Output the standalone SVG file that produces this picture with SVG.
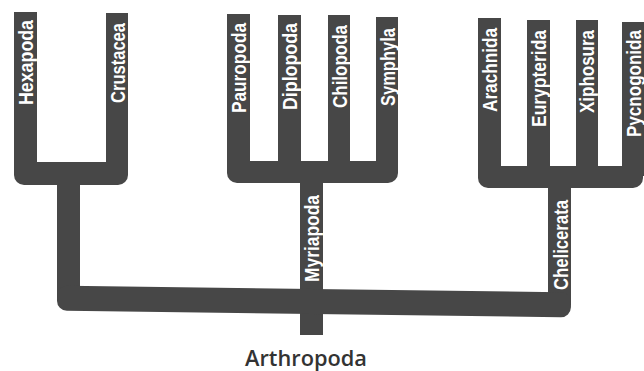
<svg xmlns="http://www.w3.org/2000/svg" width="644" height="371" viewBox="0 0 644 371">
<style>
.b{fill:#474747;stroke:none}
.l{fill:#ffffff;font-family:"Liberation Sans",Arial,sans-serif;font-weight:700;font-size:21px}
.t{fill:#333333;font-family:"Open Sans","Liberation Sans",sans-serif;font-weight:600;font-size:22px}
</style>
<rect width="644" height="371" fill="#ffffff"/>
<g id="connectors">
<rect class="b" x="57" y="175" width="23" height="125"/>
<rect class="b" x="300" y="175" width="23" height="160"/>
<rect class="b" x="548" y="180" width="23" height="125"/>
<rect class="b" x="57" y="289" width="514" height="25" rx="10" transform="rotate(0.75 314 301)"/>
</g>
<g id="hexapoda-crustacea">
<rect class="b" x="14" y="162" width="114" height="23" rx="10"/>
<rect class="b" x="14" y="12" width="23" height="160"/>
<rect class="b" x="106" y="13" width="22" height="159"/>
</g>
<g id="myriapoda-clade">
<rect class="b" x="227" y="161" width="171" height="22" rx="10"/>
<rect class="b" x="227" y="14" width="23" height="157"/>
<rect class="b" x="278" y="15" width="23" height="156"/>
<rect class="b" x="328" y="15" width="22" height="156"/>
<rect class="b" x="376" y="17" width="22" height="154"/>
</g>
<g id="chelicerata-clade">
<rect class="b" x="478" y="166" width="165" height="22" rx="10"/>
<rect class="b" x="478" y="18" width="23" height="158"/>
<rect class="b" x="527" y="20" width="23" height="156"/>
<rect class="b" x="576" y="20" width="22" height="156"/>
<rect class="b" x="622" y="22" width="22" height="154"/>
</g>
<g id="labels">
<text class="l" transform="translate(33 105) rotate(-90)" textLength="85" lengthAdjust="spacingAndGlyphs">Hexapoda</text>
<text class="l" transform="translate(124.5 103) rotate(-90)" textLength="80" lengthAdjust="spacingAndGlyphs">Crustacea</text>
<text class="l" transform="translate(246 113) rotate(-90)" textLength="90" lengthAdjust="spacingAndGlyphs">Pauropoda</text>
<text class="l" transform="translate(297 110) rotate(-90)" textLength="87" lengthAdjust="spacingAndGlyphs">Diplopoda</text>
<text class="l" transform="translate(346.5 108) rotate(-90)" textLength="83" lengthAdjust="spacingAndGlyphs">Chilopoda</text>
<text class="l" transform="translate(394.5 106) rotate(-90)" textLength="78" lengthAdjust="spacingAndGlyphs">Symphyla</text>
<text class="l" transform="translate(497 112) rotate(-90)" textLength="84" lengthAdjust="spacingAndGlyphs">Arachnida</text>
<text class="l" transform="translate(546 127) rotate(-90)" textLength="97" lengthAdjust="spacingAndGlyphs">Eurypterida</text>
<text class="l" transform="translate(594 113) rotate(-90)" textLength="83" lengthAdjust="spacingAndGlyphs">Xiphosura</text>
<text class="l" transform="translate(640.5 137) rotate(-90)" textLength="107" lengthAdjust="spacingAndGlyphs">Pycnogonida</text>
<text class="l" transform="translate(319 282) rotate(-90)" textLength="87" lengthAdjust="spacingAndGlyphs">Myriapoda</text>
<text class="l" transform="translate(567.5 290) rotate(-90)" textLength="90" lengthAdjust="spacingAndGlyphs">Chelicerata</text>
</g>
<g id="arthropoda">
<text class="t" x="306" y="366" text-anchor="middle" textLength="122" lengthAdjust="spacingAndGlyphs">Arthropoda</text>
</g>
</svg>
